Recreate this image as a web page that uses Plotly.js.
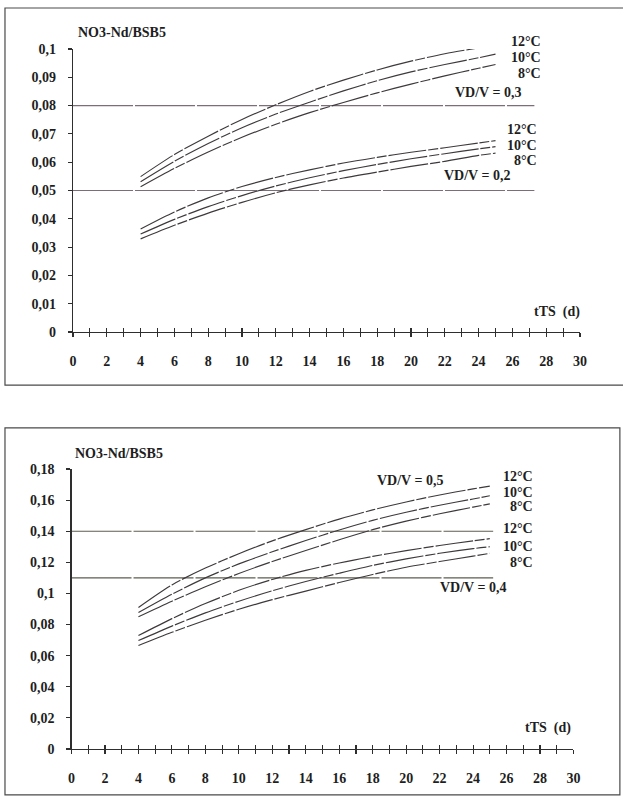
<!DOCTYPE html>
<html>
<head>
<meta charset="utf-8">
<script src="https://cdn.plot.ly/plotly-3.0.1.min.js"></script>
<style>html,body{margin:0;padding:0;background:#fff;}#chart{width:623px;height:798px;}</style>
</head>
<body>
<div id="chart"></div>
<script>
// ---------- data ----------
const days = [4, 6, 8, 10, 12, 14, 16, 18, 20, 22, 24, 25];

// upper chart: VD/V = 0,3
const r03_12 = [0.0549, 0.0627, 0.0692, 0.0751, 0.0803, 0.0850, 0.0890, 0.0926, 0.0957, 0.0983, 0.1004, 0.1014];
const r03_10 = [0.0531, 0.0603, 0.0666, 0.0722, 0.0770, 0.0812, 0.0852, 0.0888, 0.0919, 0.0945, 0.0969, 0.0982];
const r03_8  = [0.0513, 0.0578, 0.0636, 0.0688, 0.0734, 0.0775, 0.0811, 0.0845, 0.0876, 0.0905, 0.0932, 0.0945];
// upper chart: VD/V = 0,2
const r02_12 = [0.0364, 0.0424, 0.0474, 0.0514, 0.0546, 0.0573, 0.0597, 0.0617, 0.0635, 0.0651, 0.0668, 0.0676];
const r02_10 = [0.0346, 0.0398, 0.0443, 0.0482, 0.0516, 0.0545, 0.0570, 0.0592, 0.0612, 0.0630, 0.0647, 0.0655];
const r02_8  = [0.0329, 0.0377, 0.0420, 0.0458, 0.0492, 0.0520, 0.0544, 0.0565, 0.0585, 0.0603, 0.0624, 0.0632];

// lower chart: VD/V = 0,5
const r05_12 = [0.0910, 0.1055, 0.1163, 0.1255, 0.1338, 0.1410, 0.1478, 0.1537, 0.1588, 0.1633, 0.1672, 0.1690];
const r05_10 = [0.0877, 0.0995, 0.1100, 0.1190, 0.1268, 0.1340, 0.1408, 0.1470, 0.1522, 0.1567, 0.1607, 0.1628];
const r05_8  = [0.0850, 0.0950, 0.1043, 0.1128, 0.1205, 0.1276, 0.1345, 0.1410, 0.1465, 0.1512, 0.1555, 0.1576];
// lower chart: VD/V = 0,4
const r04_12 = [0.0729, 0.0838, 0.0935, 0.1020, 0.1090, 0.1148, 0.1196, 0.1238, 0.1275, 0.1308, 0.1338, 0.1352];
const r04_10 = [0.0697, 0.0790, 0.0875, 0.0950, 0.1017, 0.1077, 0.1130, 0.1180, 0.1222, 0.1258, 0.1288, 0.1300];
const r04_8  = [0.0665, 0.0750, 0.0828, 0.0898, 0.0960, 0.1015, 0.1070, 0.1122, 0.1168, 0.1205, 0.1240, 0.1258];

// horizontal reference levels
const topRefX = [0, 27.3];
const topLevel03 = [0.08, 0.08];
const topLevel02 = [0.05, 0.05];
const botRefX = [0, 25.2];
const botLevel05 = [0.14, 0.14];
const botLevel04 = [0.11, 0.11];

// ticks
const xTickVals = [0,1,2,3,4,5,6,7,8,9,10,11,12,13,14,15,16,17,18,19,20,21,22,23,24,25,26,27,28,29,30];
const xTickText = ["0","","2","","4","","6","","8","","10","","12","","14","","16","","18","","20","","22","","24","","26","","28","","30"];
const yTopVals = [0, 0.01, 0.02, 0.03, 0.04, 0.05, 0.06, 0.07, 0.08, 0.09, 0.1];
const yTopText = ["0","0,01","0,02","0,03","0,04","0,05","0,06","0,07","0,08","0,09","0,1"];
const yBotVals = [0, 0.02, 0.04, 0.06, 0.08, 0.1, 0.12, 0.14, 0.16, 0.18];
const yBotText = ["0","0,02","0,04","0,06","0,08","0,1","0,12","0,14","0,16","0,18"];

// texts
const yTitle = "NO3-Nd/BSB5";
const xTitle = "tTS  (d)";

// ---------- styling ----------
const FONT = "Liberation Serif, Times New Roman, serif";
const X_MAX = 30, YTOP_MAX = 0.1, YBOT_MAX = 0.18;
const curveLine = {color: "#3e393c", width: 1.15, dash: "38px,2px,10px,2px", shape: "spline", smoothing: 0.8};
const topRefLine = {color: "#7c6e77", width: 1.1, dash: "60px,2px"};
const botRefLine = {color: "#5f5e52", width: 1.1, dash: "60px,2px"};

function curve(x, y, xa, ya) {
  return {x: x, y: y, xaxis: xa, yaxis: ya, type: "scatter", mode: "lines",
          line: curveLine, hoverinfo: "skip", showlegend: false, cliponaxis: false};
}
function ref(x, y, xa, ya, ln) {
  return {x: x, y: y, xaxis: xa, yaxis: ya, type: "scatter", mode: "lines",
          line: ln, hoverinfo: "skip", showlegend: false, cliponaxis: false};
}

const traces = [
  ref(topRefX, topLevel03, "x", "y", topRefLine),
  ref(topRefX, topLevel02, "x", "y", topRefLine),
  curve(days, r03_12, "x", "y"), curve(days, r03_10, "x", "y"), curve(days, r03_8, "x", "y"),
  curve(days, r02_12, "x", "y"), curve(days, r02_10, "x", "y"), curve(days, r02_8, "x", "y"),
  ref(botRefX, botLevel05, "x2", "y2", botRefLine),
  ref(botRefX, botLevel04, "x2", "y2", botRefLine),
  curve(days, r05_12, "x2", "y2"), curve(days, r05_10, "x2", "y2"), curve(days, r05_8, "x2", "y2"),
  curve(days, r04_12, "x2", "y2"), curve(days, r04_10, "x2", "y2"), curve(days, r04_8, "x2", "y2"),
  {x: [], y: [], xaxis: "x3", yaxis: "y", type: "scatter", mode: "lines", showlegend: false, hoverinfo: "skip"},
  {x: [], y: [], xaxis: "x4", yaxis: "y2", type: "scatter", mode: "lines", showlegend: false, hoverinfo: "skip"}
];

const tickFont = {family: FONT, size: 14, color: "#1e1e1e", weight: "bold"};
const axisColor = "#2e2e2e";

function xAxis(domain, anchor) {
  return {domain: domain, anchor: anchor, range: [0, X_MAX], showgrid: false, zeroline: false,
          showline: true, linecolor: axisColor, linewidth: 1.2,
          tickmode: "array", tickvals: xTickVals, ticktext: xTickText,
          ticks: "outside", ticklen: 4, tickwidth: 1.1, tickcolor: axisColor,
          ticklabelstandoff: 12, tickfont: tickFont, fixedrange: true};
}
function xOverlay(base, anchor) {
  return {overlaying: base, anchor: anchor, range: [0, X_MAX], showgrid: false, zeroline: false,
          showline: false, tickmode: "array", tickvals: xTickVals, showticklabels: false,
          ticks: "inside", ticklen: 4, tickwidth: 1.1, tickcolor: axisColor, fixedrange: true};
}
function yAxis(domain, anchor, range, vals, text) {
  return {domain: domain, anchor: anchor, range: range, showgrid: false, zeroline: false,
          showline: true, linecolor: axisColor, linewidth: 1.2,
          tickmode: "array", tickvals: vals, ticktext: text,
          ticks: "outside", ticklen: 4, tickwidth: 1.1, tickcolor: axisColor,
          ticklabelstandoff: 9, tickfont: tickFont, fixedrange: true};
}

// annotations positioned in axis-domain units (derived from data-scale values)
const annFont = {family: FONT, size: 14, color: "#1e1e1e", weight: "bold"};
function ann(text, x, y, which, xanchor) {
  const top = which === "top";
  return {text: text,
          x: x / X_MAX, y: y / (top ? YTOP_MAX : YBOT_MAX),
          xref: top ? "x domain" : "x2 domain", yref: top ? "y domain" : "y2 domain",
          xanchor: xanchor, yanchor: "middle", showarrow: false, font: annFont};
}

const annotations = [
  ann(yTitle, 0.2, 0.1060, "top", "left"),
  ann("12°C", 27.8, 0.1025, "top", "right"),
  ann("10°C", 27.8, 0.0970, "top", "right"),
  ann("8°C", 27.8, 0.0914, "top", "right"),
  ann("VD/V = 0,3", 26.6, 0.0848, "top", "right"),
  ann("12°C", 27.6, 0.0716, "top", "right"),
  ann("10°C", 27.6, 0.0660, "top", "right"),
  ann("8°C", 27.6, 0.0605, "top", "right"),
  ann("VD/V = 0,2", 26.0, 0.0553, "top", "right"),
  ann(xTitle, 30.1, 0.0072, "top", "right"),

  ann(yTitle, 0.1, 0.1897, "bot", "left"),
  ann("VD/V = 0,5", 22.3, 0.1729, "bot", "right"),
  ann("12°C", 27.7, 0.1750, "bot", "right"),
  ann("10°C", 27.7, 0.1652, "bot", "right"),
  ann("8°C", 27.7, 0.1558, "bot", "right"),
  ann("12°C", 27.7, 0.1419, "bot", "right"),
  ann("10°C", 27.7, 0.1300, "bot", "right"),
  ann("8°C", 27.7, 0.1198, "bot", "right"),
  ann("VD/V = 0,4", 26.1, 0.1039, "bot", "right"),
  ann(xTitle, 30.0, 0.0135, "bot", "right")
];

const frameLine = {color: "#4a4a4a", width: 1.2};
const shapes = [
  {type: "rect", xref: "paper", yref: "paper", x0: 0.008, x1: 1.02, y0: 0.5175, y1: 0.990, line: frameLine},
  {type: "rect", xref: "paper", yref: "paper", x0: 0.008, x1: 0.995, y0: 0.004, y1: 0.4637, line: frameLine}
];

const layout = {
  width: 623, height: 798,
  margin: {l: 0, r: 0, t: 0, b: 0},
  paper_bgcolor: "#ffffff", plot_bgcolor: "rgba(0,0,0,0)",
  showlegend: false,
  font: {family: FONT, size: 13, color: "#222"},
  xaxis: xAxis([0.1172, 0.9310], "y"),
  yaxis: yAxis([0.5840, 0.9386], "x", [0, YTOP_MAX], yTopVals, yTopText),
  xaxis2: xAxis([0.1148, 0.9205], "y2"),
  yaxis2: yAxis([0.0614, 0.4123], "x2", [0, YBOT_MAX], yBotVals, yBotText),
  xaxis3: xOverlay("x", "y"),
  xaxis4: xOverlay("x2", "y2"),
  annotations: annotations,
  shapes: shapes
};

Plotly.newPlot("chart", traces, layout, {staticPlot: true, displayModeBar: false});
</script>
</body>
</html>
